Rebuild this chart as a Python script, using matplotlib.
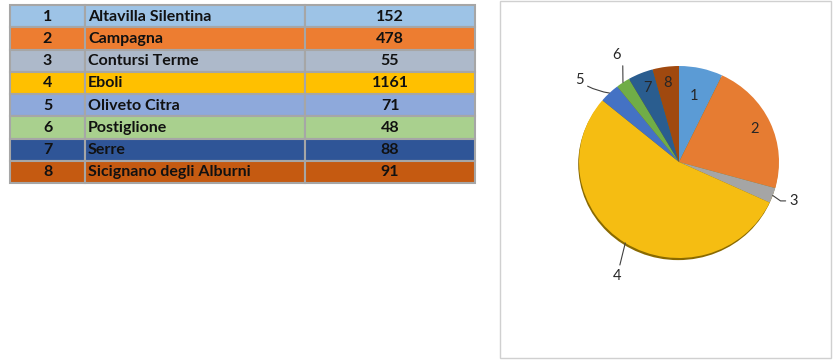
import numpy as np
import matplotlib.pyplot as plt
from matplotlib.patches import Rectangle, Ellipse

# dati
numeri = ["1", "2", "3", "4", "5", "6", "7", "8"]
comuni = ["Altavilla Silentina", "Campagna", "Contursi Terme", "Eboli",
          "Oliveto Citra", "Postiglione", "Serre", "Sicignano degli Alburni"]
valori = [152, 478, 55, 1161, 71, 48, 88, 91]

row_colors = ["#9DC3E6", "#ED7D31", "#ADB9CA", "#FFC000",
              "#8EA9DB", "#A9D08E", "#2F5597", "#C55A11"]
pie_colors = ["#5B9BD5", "#E67C32", "#A5A5A5", "#F5BD12",
              "#4472C4", "#70AD47", "#2A5D8F", "#A0490F"]

W, H = 840, 364
fig = plt.figure(figsize=(W / 100, H / 100), dpi=100)
bg = fig.add_axes([0, 0, 1, 1])
bg.set_xlim(0, W)
bg.set_ylim(H, 0)
bg.axis("off")

# tabella
font = dict(family="Lato", weight="bold", fontsize=11.5, color="#111111")
col_edges = [10, 85, 305, 475]
top, row_h = 5, 22.25
for i, (n, nome, v, c) in enumerate(zip(numeri, comuni, valori, row_colors)):
    y = top + i * row_h
    for j in range(3):
        bg.add_patch(Rectangle((col_edges[j], y), col_edges[j + 1] - col_edges[j], row_h,
                               facecolor=c, edgecolor="#A6A6A6", lw=1.5))
    ym = y + row_h / 2 + 0.5
    bg.text((col_edges[0] + col_edges[1]) / 2, ym, n, ha="center", va="center", **font)
    bg.text(col_edges[1] + 3, ym, nome, ha="left", va="center", **font)
    bg.text((col_edges[2] + col_edges[3]) / 2, ym, str(v), ha="center", va="center", **font)

# cornice del grafico
bg.add_patch(Rectangle((500, 1), 331, 357, fill=False, edgecolor="#D0D0D0", lw=1))

# torta (leggermente schiacciata in verticale come nell'originale)
cx, cy, rx, ry = 679, 162, 100, 96
k = 1.5
ax = fig.add_axes([(cx - k * rx) / W, 1 - (cy + k * ry) / H, 2 * k * rx / W, 2 * k * ry / H])
ax.add_patch(Ellipse((-0.008, -0.022), 2, 2, facecolor="#8A6A00", edgecolor="none", zorder=0))
wedges, _ = ax.pie(valori, colors=pie_colors, startangle=90, counterclock=False,
                   wedgeprops=dict(linewidth=0))
ax.set_aspect("auto")
ax.set_xlim(-k, k)
ax.set_ylim(-k, k)
ax.axis("off")

frac = np.array(valori) / sum(valori)
mid = 90 - 360 * (np.cumsum(frac) - frac / 2)

lab = dict(family="Lato", fontsize=10.5, color="#262626")
inside = {0: 0.70, 1: 0.83, 6: 0.83, 7: 0.83}
for i, r in inside.items():
    a = np.radians(mid[i])
    ax.text(r * np.cos(a), r * np.sin(a), numeri[i], ha="center", va="center", **lab)

# etichette esterne con linee guida: (raggio, scarto angolo, relpos, connessione)
outside = {
    2: (1.22, 1.0, (0, 0.5), "angle,angleA=0,angleB=-35,rad=0"),
    3: (1.34, 5.0, (0.7, 1.0), "arc3,rad=0"),
    4: (1.31, 5.5, (1.0, 0.25), "arc3,rad=0.1"),
    5: (1.28, -5.0, (1.2, 0.0), "arc3,rad=0"),
}
for i, (r, da, rp, cs) in outside.items():
    a = np.radians(mid[i])
    t = np.radians(mid[i] + da)
    ax.annotate(numeri[i], xy=(np.cos(a), np.sin(a)), xytext=(r * np.cos(t), r * np.sin(t)),
                ha="center", va="center",
                arrowprops=dict(arrowstyle="-", color="#404040", lw=0.8,
                                shrinkA=1, shrinkB=0, relpos=rp, connectionstyle=cs),
                **lab)

fig.savefig("out.png", dpi=100)
